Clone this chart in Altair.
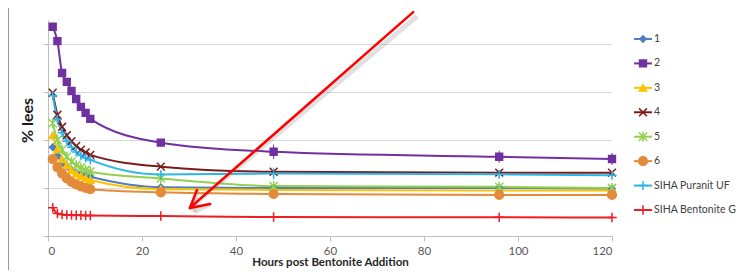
import altair as alt
import pandas as pd

hours = [1, 2, 3, 4, 5, 6, 7, 8, 9, 24, 48, 96, 120]
series_names = ["1", "2", "3", "4", "5", "6", "SIHA Puranit UF", "SIHA Bentonite G"]

s1 = [3.70, 3.35, 3.05, 2.90, 2.75, 2.65, 2.58, 2.52, 2.47, 2.03, 2.00, 2.00, 1.97]
s2 = [8.72, 8.12, 6.79, 6.42, 6.04, 5.71, 5.38, 5.13, 4.88, 3.89, 3.51, 3.30, 3.21]
s3 = [4.20, 3.60, 3.20, 2.95, 2.75, 2.60, 2.50, 2.40, 2.33, 1.95, 1.92, 1.90, 1.90]
s4 = [5.97, 5.05, 4.55, 4.20, 3.95, 3.75, 3.60, 3.48, 3.38, 2.89, 2.68, 2.64, 2.64]
s5 = [4.70, 4.00, 3.60, 3.30, 3.10, 2.95, 2.85, 2.75, 2.68, 2.40, 2.08, 2.05, 2.00]
s6 = [3.20, 2.86, 2.60, 2.40, 2.25, 2.15, 2.07, 2.00, 1.95, 1.82, 1.75, 1.71, 1.71]
s_uf = [5.85, 4.85, 4.30, 3.95, 3.70, 3.50, 3.35, 3.25, 3.17, 2.56, 2.60, 2.57, 2.53]
s_g = [1.18, 0.94, 0.90, 0.88, 0.87, 0.86, 0.86, 0.85, 0.85, 0.83, 0.79, 0.78, 0.77]

err2 = [0.12, 0.15, 0.12, 0.10, 0.10, 0.10, 0.10, 0.10, 0.10, 0.15, 0.30, 0.25, 0.25]
err_uf = [0.10, 0.10, 0.10, 0.10, 0.10, 0.10, 0.10, 0.10, 0.10, 0.15, 0.25, 0.15, 0.10]

colors = ["#4f7fbd", "#7030a0", "#ffc000", "#7b1c1c", "#92d050", "#e38b3b", "#2bb5e8", "#ee1c24"]
shapes = ["diamond", "square", "triangle-up",
          "M-1,-1L1,1M-1,1L1,-1",
          "M-1,-1L1,1M-1,1L1,-1M0,-1.2V1.2",
          "circle",
          "M0,-1V1M-1,0H1",
          "M0,-1V1M-1,0H1"]
sizes = [40, 90, 50, 45, 50, 80, 40, 30]

# arrow annotation (data coordinates)
arrow_x = [77.7, 30.2, 30.2]
arrow_y = [9.33, 1.17, 1.17]
arrow_x2 = [30.2, 34.5, 31.7]
arrow_y2 = [1.17, 1.33, 1.92]

values = [s1, s2, s3, s4, s5, s6, s_uf, s_g]
rows = []
for name, vals in zip(series_names, values):
    for h, v in zip(hours, vals):
        rows.append({"hours": h, "lees": v, "series": name})
df = pd.DataFrame(rows)

erows = []
for name, vals, errs in [("2", s2, err2), ("SIHA Puranit UF", s_uf, err_uf)]:
    for h, v, e in zip(hours, vals, errs):
        erows.append({"hours": h, "lo": v - e, "hi": v + e, "series": name})
edf = pd.DataFrame(erows)

adf = pd.DataFrame({"x": arrow_x, "y": arrow_y, "x2": arrow_x2, "y2": arrow_y2})
ldf = pd.DataFrame({"series": series_names, "rank": list(range(len(series_names)))})

color_scale = alt.Scale(domain=series_names, range=colors)
shape_scale = alt.Scale(domain=series_names, range=shapes)
size_scale = alt.Scale(domain=series_names, range=sizes)

xs = alt.Scale(domain=[0, 120], nice=False)
ys = alt.Scale(domain=[0, 9], nice=False)

x_enc = alt.X("hours:Q", scale=xs, axis=alt.Axis(
    values=[0, 20, 40, 60, 80, 100, 120], grid=False, title="Hours post Bentonite Addition",
    domainColor="#bfbfbf", tickColor="#bfbfbf", tickSize=5, labelFontSize=11.5,
    labelColor="#595959", labelPadding=4, titleFontSize=11.5, titleFontWeight="bold",
    titleColor="#262626", titlePadding=0))
y_enc = alt.Y("lees:Q", scale=ys, axis=alt.Axis(
    values=list(range(0, 10)), labels=False, grid=True, gridColor="#d9d9d9",
    domainColor="#bfbfbf", tickColor="#bfbfbf", tickSize=5, title="% lees",
    titleFontSize=16, titleFontWeight="bold", titleColor="#1a1a1a",
    titleX=-21, titleY=100, titleAngle=270, titleAlign="center", titleBaseline="middle"))

err = alt.Chart(edf).mark_rule(strokeWidth=1).encode(
    x=alt.X("hours:Q", scale=xs),
    y=alt.Y("lo:Q", scale=ys),
    y2="hi:Q",
    color=alt.Color("series:N", scale=color_scale, legend=None),
)

lines = alt.Chart(df).mark_line(interpolate="monotone", strokeWidth=2).encode(
    x=x_enc, y=y_enc,
    color=alt.Color("series:N", scale=color_scale, legend=None),
    order="hours:Q",
)

points = alt.Chart(df).mark_point(filled=True, strokeWidth=1.5, opacity=1).encode(
    x=alt.X("hours:Q", scale=xs),
    y=alt.Y("lees:Q", scale=ys),
    color=alt.Color("series:N", scale=color_scale, legend=None),
    stroke=alt.Stroke("series:N", scale=color_scale, legend=None),
    shape=alt.Shape("series:N", scale=shape_scale, legend=None),
    size=alt.Size("series:N", scale=size_scale, legend=None),
)

arrow_shadow = alt.Chart(adf).mark_rule(color="#888888", opacity=0.25, strokeWidth=5,
                                        xOffset=4, yOffset=4).encode(
    x=alt.X("x:Q", scale=xs), y=alt.Y("y:Q", scale=ys), x2="x2:Q", y2="y2:Q")
arrow = alt.Chart(adf).mark_rule(color="#ff0000", strokeWidth=2.5, strokeCap="round").encode(
    x=alt.X("x:Q", scale=xs), y=alt.Y("y:Q", scale=ys), x2="x2:Q", y2="y2:Q")

main = alt.layer(err, lines, points, arrow_shadow, arrow)

ly = alt.Y("rank:Q", scale=alt.Scale(domain=[0, 7], range=[19, 190], nice=False, zero=False), axis=None)
leg_rule = alt.Chart(ldf).mark_rule(strokeWidth=2).encode(
    x=alt.value(586), x2=alt.value(604), y=ly,
    color=alt.Color("series:N", scale=color_scale, legend=None))
leg_pt = alt.Chart(ldf).mark_point(filled=True, strokeWidth=1.5, opacity=1).encode(
    x=alt.value(595), y=ly,
    color=alt.Color("series:N", scale=color_scale, legend=None),
    stroke=alt.Stroke("series:N", scale=color_scale, legend=None),
    shape=alt.Shape("series:N", scale=shape_scale, legend=None),
    size=alt.Size("series:N", scale=size_scale, legend=None))
leg_txt = alt.Chart(ldf).mark_text(align="left", baseline="middle", fontSize=10.5,
                                   color="#404040").encode(
    x=alt.value(606), y=ly, text="series:N")
legend = alt.layer(leg_rule, leg_pt, leg_txt)

border = alt.Chart(ldf).mark_rule(color="#9a9a9a", strokeWidth=1).encode(
    x=alt.value(-39.5), y=alt.value(-12), y2=alt.value(250))

chart = alt.layer(main, legend, border).resolve_scale(y="independent").properties(
    width=564, height=216,
    autosize=alt.AutoSizeParams(type="none"),
    padding={"left": 40, "top": 12, "right": 129, "bottom": 34},
).configure(font="Lato").configure_view(stroke=None)

chart.save("out.html", embed_options={"renderer": "svg", "actions": False})
